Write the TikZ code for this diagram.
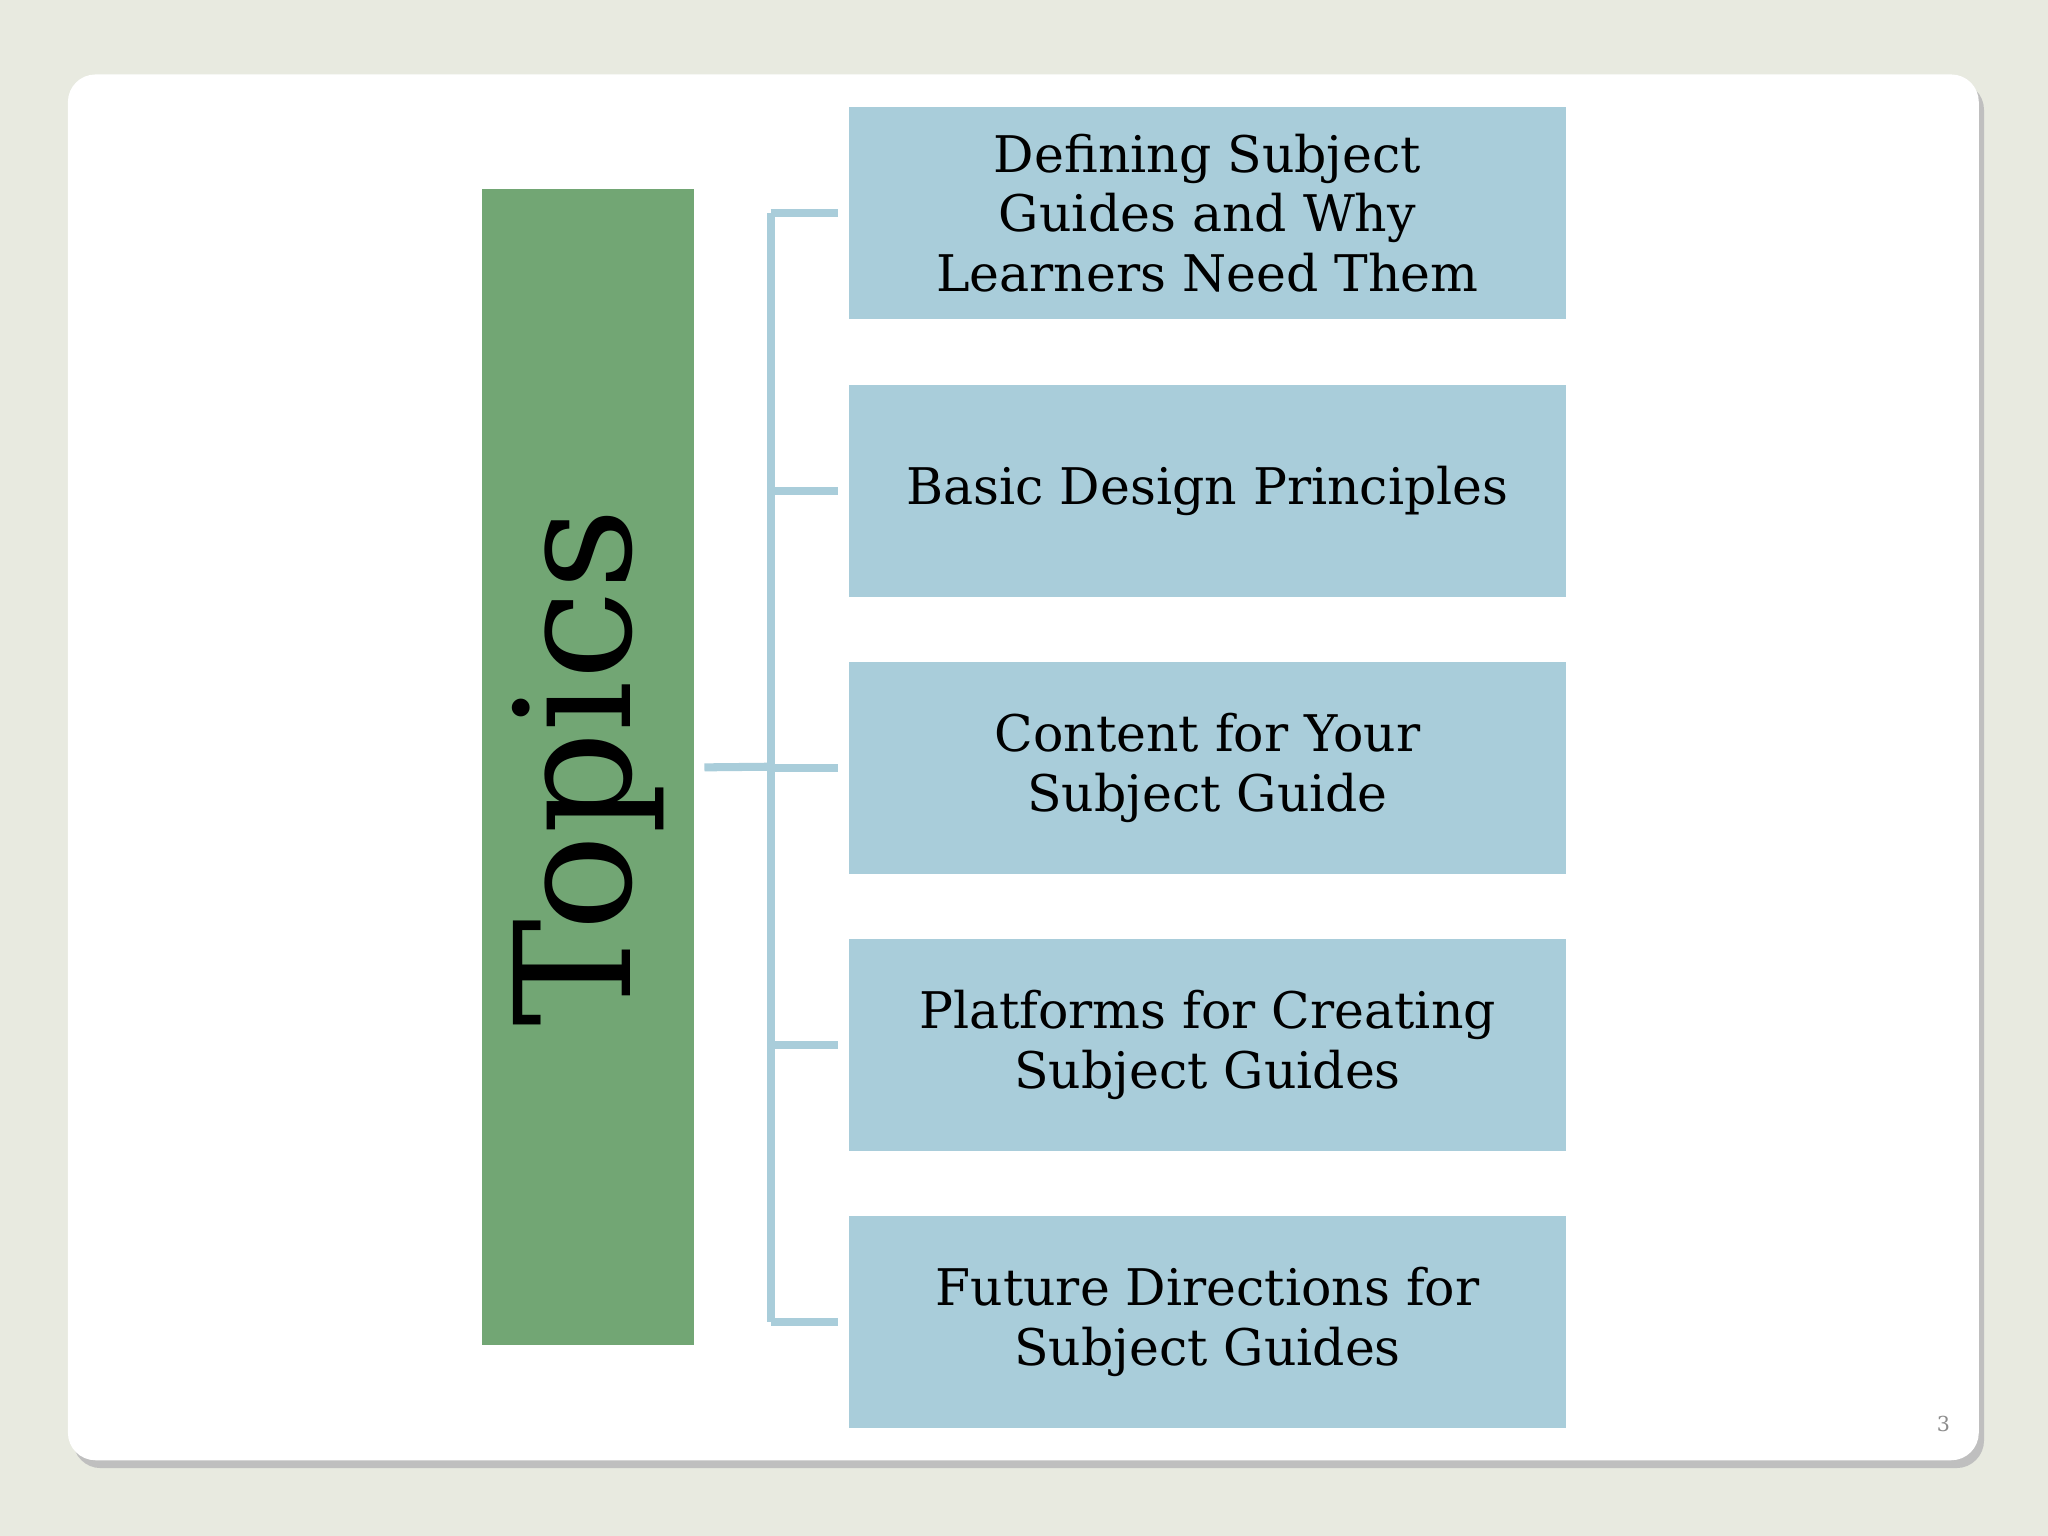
\documentclass[tikz,border=0pt]{standalone}
\usepackage{fontspec}
\setmainfont{DejaVu Serif}
\definecolor{bg}{HTML}{E8EAE0}
\definecolor{grn}{HTML}{72A674}
\definecolor{blu}{HTML}{A9CDDA}
\definecolor{lne}{HTML}{A9CDDA}
\tikzset{topicbox/.style={fill=blu,draw=none,minimum width=549*0.02cm,minimum height=162*0.02cm,inner sep=0pt,align=center,font=\fontsize{22}{26}\selectfont},
link/.style={draw=lne,line width=3.5pt}}
\begin{document}
\begin{tikzpicture}[x=0.02cm,y=-0.02cm]
\fill[bg] (0,0) rectangle (1568,1176);
\useasboundingbox (0,0) rectangle (1568,1176);
\fill[black!25,rounded corners=12] (56,63) rectangle (1519,1124);
\fill[white,rounded corners=12] (52,57) rectangle (1515,1118);
\node[fill=grn,minimum width=162*0.02cm,minimum height=885*0.02cm,inner sep=0pt] (topics) at (450,587.5) {};
\node[rotate=90,font=\fontsize{70}{80}\selectfont] at (topics.center) {Topics};
\node[topicbox] (b1) at (924.5,163) {Defining Subject\\Guides and Why\\Learners Need Them};
\node[topicbox] (b2) at (924.5,376) {Basic Design Principles};
\node[topicbox] (b3) at (924.5,588) {Content for Your\\Subject Guide};
\node[topicbox] (b4) at (924.5,800) {Platforms for Creating\\Subject Guides};
\node[topicbox] (b5) at (924.5,1012) {Future Directions for\\Subject Guides};
\coordinate (j) at (590,587);
\draw[link] ([xshift=8*0.02cm]topics.east) -- (j);
\draw[link] (590,163) -- (590,1012);
\foreach \b in {b1,b2,b3,b4,b5}{\draw[link] (590,0 |- \b.west) -- ([xshift=-8*0.02cm]\b.west);}
\node[text=black!45,font=\small] (pg) at (1488,1090) {3};
\end{tikzpicture}
\end{document}
